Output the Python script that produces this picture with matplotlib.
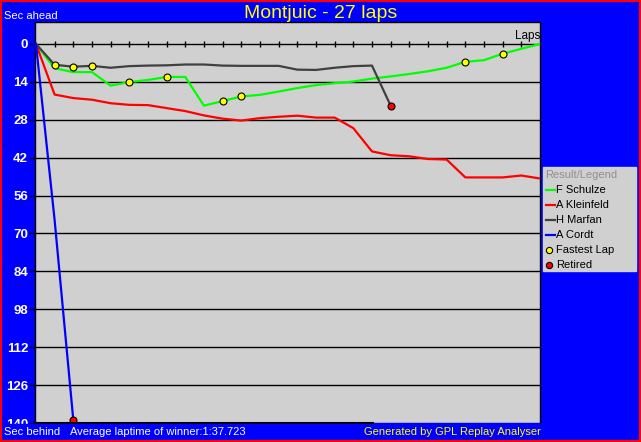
import matplotlib
matplotlib.use("Agg")
import matplotlib.pyplot as plt
from matplotlib.patches import Rectangle
from matplotlib.lines import Line2D
from matplotlib.transforms import Bbox, TransformedBbox

plt.rcParams["font.family"] = ["Liberation Sans", "DejaVu Sans"]

W, H = 641, 442

# data: seconds behind the leader at the end of each lap
laps_schulze = list(range(28))
schulze = [0, 9.0, 10.4, 10.4, 15.4, 14.1, 13.3, 12.2, 12.2, 22.8, 21.1, 19.4, 18.8, 17.6,
           16.3, 15.2, 14.5, 13.9, 12.8, 12.0, 11.1, 10.1, 8.8, 6.6, 6.0, 3.6, 1.8, 0]
laps_kleinfeld = list(range(28))
kleinfeld = [0, 18.7, 20.0, 20.6, 21.9, 22.5, 22.6, 23.7, 24.8, 26.4, 27.6, 28.3, 27.4, 26.9,
             26.5, 27.2, 27.2, 31.1, 39.7, 41.1, 41.5, 42.5, 42.7, 49.3, 49.3, 49.3, 48.6, 49.7]
laps_marfan = list(range(20))
marfan = [0, 7.7, 8.4, 8.1, 8.8, 8.2, 8.0, 7.9, 7.6, 7.6, 8.0, 8.1, 8.1, 8.1, 9.5, 9.6,
          8.8, 8.2, 8.0, 22.8]
laps_cordt = [0, 1, 2]
cordt = [0, 65, 138.8]

drivers = ["F Schulze", "A Kleinfeld", "H Marfan", "A Cordt"]
colors = ["#00ff00", "#ff0000", "#404040", "#0000ff"]

fastest_laps = [(1, "H Marfan"), (2, "H Marfan"), (3, "H Marfan"),
                (5, "F Schulze"), (7, "F Schulze"), (10, "F Schulze"), (11, "F Schulze"),
                (23, "F Schulze"), (25, "F Schulze")]
retired = ["H Marfan", "A Cordt"]

series = {
    "F Schulze": (laps_schulze, schulze),
    "A Kleinfeld": (laps_kleinfeld, kleinfeld),
    "H Marfan": (laps_marfan, marfan),
    "A Cordt": (laps_cordt, cordt),
}

y_ticks = list(range(0, 141, 14))
n_laps = 27


def fx(px):
    return px / W


def fy(py):
    return 1 - py / H


fig = plt.figure(figsize=(W / 100, H / 100), dpi=100, facecolor="#0000ff")
ax = fig.add_axes([fx(35), fy(423), fx(540) - fx(35), fy(22) - fy(423)])
ax.set_facecolor("#d0d0d0")
ax.set_xlim(-0.05, n_laps)
ax.set_ylim(139.65, -8.1)

ax.set_yticks(y_ticks)
ax.set_yticklabels([str(v) for v in y_ticks], color="white", fontweight="bold", fontsize=9.5)
ax.tick_params(axis="y", length=4, width=1, color="black", direction="out", pad=1)
ax.set_xticks([])
ax.yaxis.grid(True, color="black", lw=1)
ax.set_axisbelow(True)
for s in ["left", "top", "right"]:
    ax.spines[s].set_color("black")
    ax.spines[s].set_linewidth(1)
ax.spines["bottom"].set_visible(False)
ax.plot([0, (373 - 35) / 505], [0, 0], transform=ax.transAxes, color="black", lw=1.5,
        clip_on=False, zorder=5)

# the last label is cut off by the bottom band, like in the original
clip = TransformedBbox(Bbox([[0, fy(424)], [1, 1]]), fig.transFigure)
for lbl in ax.get_yticklabels():
    lbl.set_clip_on(True)
    lbl.set_clip_box(clip)

# lap ticks on the zero line
ax.plot(range(1, n_laps), [0] * (n_laps - 1), ls="none", marker="|", ms=4, mew=1,
        color="black", zorder=2)
ax.text(n_laps, -0.8, "Laps", ha="right", va="bottom", fontsize=8.5, color="black")

for name, c in zip(drivers, colors):
    xs, ys = series[name]
    ax.plot(xs, ys, color=c, lw=1.6, zorder=3)

for lap, name in fastest_laps:
    xs, ys = series[name]
    ax.plot(lap, ys[xs.index(lap)], ls="none", marker="o", ms=5, mfc="#ffff00", mec="black",
            mew=0.8, zorder=4)

for name in retired:
    xs, ys = series[name]
    ax.plot(xs[-1], ys[-1], ls="none", marker="o", ms=5, mfc="#ff0000", mec="black",
            mew=0.8, zorder=4, clip_on=False)

# bottom band
fig.add_artist(Rectangle((0, 0), 1, fy(424), transform=fig.transFigure, color="#0000ff",
                         zorder=10))

fig.text(0.5, fy(14), "Montjuic - 27 laps", ha="center", va="center", color="#ffff00",
         fontsize=14, zorder=11)
fig.text(fx(4), fy(16), "Sec ahead", ha="left", va="center", color="white", fontsize=8,
         zorder=11)
fig.text(fx(4), fy(432), "Sec behind", ha="left", va="center", color="white", fontsize=8,
         zorder=11)
fig.text(fx(70), fy(432), "Average laptime of winner:1:37.723", ha="left", va="center",
         color="white", fontsize=8, zorder=11)
fig.text(fx(541), fy(432), "Generated by GPL Replay Analyser", ha="right", va="center",
         color="#ffff00", fontsize=8, zorder=11)

# legend box
fig.add_artist(Rectangle((fx(543), fy(271)), fx(636) - fx(543), fy(167) - fy(271),
                         transform=fig.transFigure, color="#d0d0d0", zorder=11))
fig.text(fx(545), fy(175), "Result/Legend", ha="left", va="center", color="#909090",
         fontsize=8, zorder=12)
row_y = 190
for name, c in zip(drivers, colors):
    fig.add_artist(Line2D([fx(546), fx(555)], [fy(row_y), fy(row_y)], color=c, lw=1.6,
                          transform=fig.transFigure, zorder=12))
    fig.text(fx(556), fy(row_y), name, ha="left", va="center", color="black", fontsize=8,
             zorder=12)
    row_y += 15
for label, fc in [("Fastest Lap", "#ffff00"), ("Retired", "#ff0000")]:
    fig.add_artist(Line2D([fx(549)], [fy(row_y)], ls="none", marker="o", ms=4.5, mfc=fc,
                          mec="black", mew=0.8, transform=fig.transFigure, zorder=12))
    fig.text(fx(556), fy(row_y), label, ha="left", va="center", color="black", fontsize=8,
             zorder=12)
    row_y += 15

# red frame round the picture
fig.add_artist(Rectangle((0, 0), 1, 1, transform=fig.transFigure, fill=False,
                         ec="#ff0000", lw=3, zorder=20))

fig.savefig("out.png", dpi=100, facecolor=fig.get_facecolor())
